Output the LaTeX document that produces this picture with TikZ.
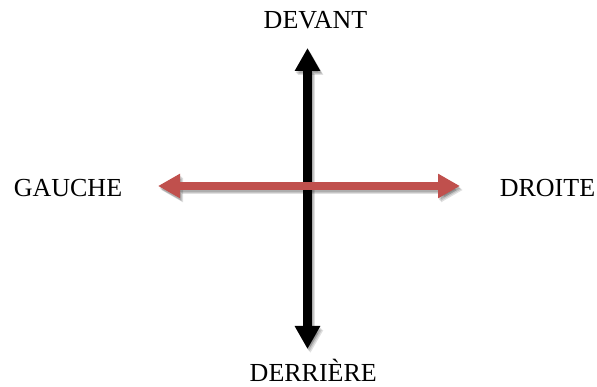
\documentclass[tikz,border=0pt]{standalone}
\usepackage{fontspec}
\setmainfont{Liberation Serif}
\usetikzlibrary{arrows.meta}
\definecolor{arrowred}{HTML}{C0504D}
\tikzset{
  lbl/.style={anchor=base, inner sep=0pt, font=\fontsize{26}{26}\selectfont},
  vtip/.style={-{Triangle[length=23pt,width=24pt]}, line width=9pt},
  htip/.style={-{Triangle[length=22pt,width=23pt]}, line width=7.5pt},
  shadowlayer/.style={black, opacity=0.12}
}
\begin{document}
\begin{tikzpicture}[x=1pt,y=-1pt]
\useasboundingbox (0,0) rectangle (597,387);
% coordinates
\coordinate (c) at (307.5,186);
\coordinate (top) at (307.5,48);
\coordinate (bot) at (307.5,349);
\coordinate (left) at (158,186);
\coordinate (right) at (460,186);
% shadows
\foreach \dx/\dy in {1/2,2/3,3/4}{
  \draw[vtip, shadowlayer] ([shift={(\dx,\dy)}]c) -- ([shift={(\dx,\dy)}]top);
  \draw[vtip, shadowlayer] ([shift={(\dx,\dy)}]c) -- ([shift={(\dx,\dy)}]bot);
  \draw[htip, shadowlayer] ([shift={(\dx,\dy)}]c) -- ([shift={(\dx,\dy)}]left);
  \draw[htip, shadowlayer] ([shift={(\dx,\dy)}]c) -- ([shift={(\dx,\dy)}]right);
}
% black vertical arrow
\draw[vtip, black] (c) -- (top);
\draw[vtip, black] (c) -- (bot);
% red horizontal arrow
\draw[htip, arrowred] (c) -- (left);
\draw[htip, arrowred] (c) -- (right);
% labels
\node[lbl] (devant) at (315.5,29) {DEVANT};
\node[lbl] (gauche) at (68,196.7) {GAUCHE};
\node[lbl] (droite) at (547.5,196.7) {DROITE};
\node[lbl] (derriere) at (313.3,381.7) {DERRIÈRE};
\end{tikzpicture}
\end{document}
